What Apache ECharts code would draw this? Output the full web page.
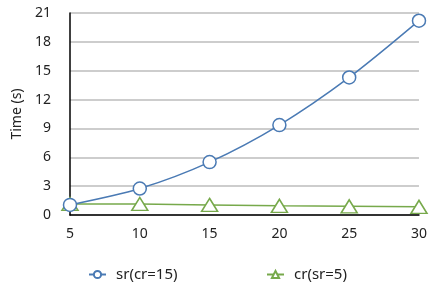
<!DOCTYPE html>
<html><head><meta charset="utf-8">
<script src="https://cdn.jsdelivr.net/npm/echarts@6/dist/echarts.min.js"></script>
<style>html,body{margin:0;padding:0;background:#fff}#c{width:430px;height:286px}</style>
</head><body><div id="c"></div>
<script>
var xValues = [5, 10, 15, 20, 25, 30];
var srValues = [1.05, 2.75, 5.5, 9.35, 14.3, 20.2];
var crValues = [1.15, 1.15, 1.05, 0.95, 0.9, 0.85];
var seriesNames = ['sr(cr=15)', 'cr(sr=5)'];
var yAxisName = 'Time (s)';

function pairs(v){ return xValues.map(function(x,i){ return [x, v[i]]; }); }
var font = '"Noto Sans", "DejaVu Sans", sans-serif';
var legendText = {fontSize:15, color:'#222', fontFamily:font, padding:[0,0,0,5]};
var chart = echarts.init(document.getElementById('c'));
chart.setOption({
  animation:false,
  textStyle:{fontFamily:font},
  grid:{left:70, right:10, top:13, bottom:71},
  legend:[
    {top:262, left:83, itemWidth:17, itemHeight:9, textStyle:legendText, data:[seriesNames[0]]},
    {top:262, left:261, itemWidth:17, itemHeight:9, textStyle:legendText, data:[seriesNames[1]]}
  ],
  xAxis:{
    type:'value', min:5, max:30, interval:5,
    axisLine:{lineStyle:{color:'#000', width:1.5}},
    axisTick:{show:false},
    splitLine:{show:false},
    axisLabel:{fontSize:14, color:'#222', margin:12, fontFamily:font}
  },
  yAxis:{
    type:'value', min:0, max:21, interval:3,
    name:yAxisName, nameLocation:'middle', nameGap:46, nameRotate:90,
    nameTextStyle:{fontSize:14, color:'#222', fontFamily:font},
    axisLine:{show:true, lineStyle:{color:'#000', width:1.5}},
    axisTick:{show:false},
    splitLine:{lineStyle:{color:'#bdbdbd', width:1.5}},
    axisLabel:{fontSize:14, color:'#222', margin:19, fontFamily:font}
  },
  series:[
    {name:seriesNames[0], type:'line', data:pairs(srValues), smooth:0.3,
     symbol:'circle', symbolSize:13,
     lineStyle:{color:'#4a7ab4', width:1.5},
     itemStyle:{color:'#fff', borderColor:'#4a7ab4', borderWidth:1.5}, z:3},
    {name:seriesNames[1], type:'line', data:pairs(crValues),
     symbol:'triangle', symbolSize:[16,13],
     lineStyle:{color:'#77a94b', width:1.5},
     itemStyle:{color:'#fff', borderColor:'#77a94b', borderWidth:1.5}, z:2}
  ]
});
</script></body></html>
